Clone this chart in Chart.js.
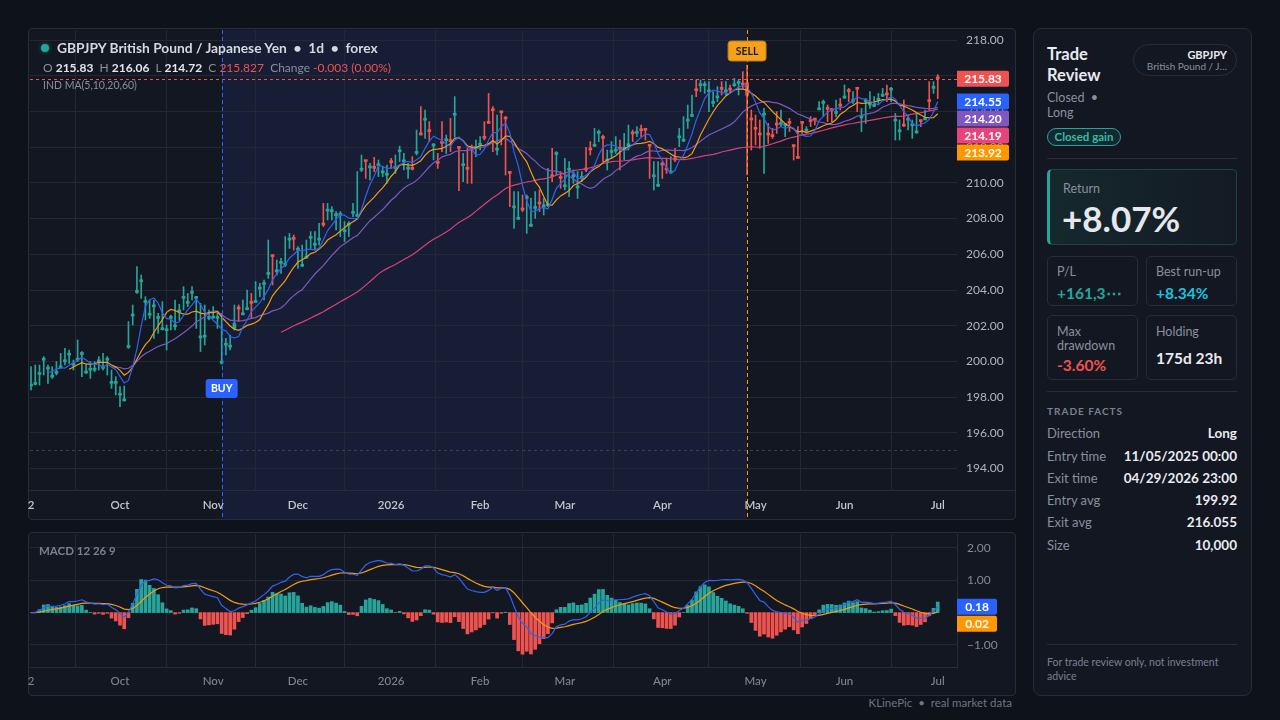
<!DOCTYPE html>
<html>
<head>
<meta charset="utf-8">
<title>GBPJPY trade review</title>
<script src="https://cdn.jsdelivr.net/npm/chart.js@4.4.1/dist/chart.umd.min.js"></script>
<style>
  body { margin: 0; width: 1280px; height: 720px; background: #0e121a; overflow: hidden; position: relative;
         font-family: Lato, "Noto Sans", sans-serif; color: #d1d4dc; }
  .box { position: absolute; background: #131722; border: 1px solid #272c38; border-radius: 4px; box-sizing: border-box; }
  canvas { position: absolute; }
  .abs { position: absolute; white-space: nowrap; }
  .g { color: #8a8f9d; }
  .v { color: #e4e6eb; font-weight: 700; }
  .r { color: #ef5350; }
  .card { position: absolute; border: 1px solid #272c38; border-radius: 5px; box-sizing: border-box; }
  .lbl { position: absolute; left: 9px; font-size: 12.5px; line-height: 14px; color: #8a8f9d; }
  .val { position: absolute; left: 9px; font-size: 15.5px; line-height: 18px; font-weight: 700; }
  .hr { position: absolute; left: 13px; width: 190px; height: 1px; background: #272c38; }
  .row { position: absolute; left: 13px; width: 190px; height: 16px; line-height: 16px; }
  .row span { position: absolute; }
  .row .k { left: 0; font-size: 13px; color: #8a8f9d; }
  .row .w { right: 0; font-size: 13.5px; font-weight: 700; color: #e9ebf0; }
</style>
</head>
<body>
<div class="box" style="left:28px;top:28px;width:988px;height:492px"></div>
<div class="box" style="left:28px;top:532px;width:988px;height:164px"></div>
<canvas id="main" width="988" height="491" style="left:28px;top:28px"></canvas>
<canvas id="macd" width="988" height="162" style="left:28px;top:533px"></canvas>

<div class="abs" style="left:41px;top:44px;width:8px;height:8px;border-radius:4px;background:#26a69a;box-shadow:0 0 4px rgba(38,166,154,.6)"></div>
<div class="abs" style="left:57px;top:40px;font-size:13.8px;line-height:16px;font-weight:700;color:#d5d8df">GBPJPY British Pound / Japanese Yen &nbsp;•&nbsp; 1d &nbsp;•&nbsp; forex</div>
<div class="abs" style="left:43px;top:61px;font-size:12px;line-height:14px">
  <span class="g">O</span> <span class="v">215.83</span>&nbsp;
  <span class="g">H</span> <span class="v">216.06</span>&nbsp;
  <span class="g">L</span> <span class="v">214.72</span>&nbsp;
  <span class="g">C</span> <span class="r">215.827</span>&nbsp;
  <span class="g">Change</span> <span class="r">-0.003 (0.00%)</span>
</div>
<div class="abs g" style="left:43px;top:78px;font-size:10.5px;line-height:14px">IND MA(5,10,20,60)</div>
<div class="abs" style="left:39px;top:544px;font-size:11.5px;line-height:14px;font-weight:700;color:#7b8091">MACD 12 26 9</div>
<div class="abs" style="right:268px;top:696px;font-size:11.5px;line-height:14px;color:#6f7486">KLinePic &nbsp;•&nbsp; real market data</div>

<div class="box" style="left:1033px;top:28px;width:219px;height:668px;border-radius:8px">
  <div class="abs" style="left:13px;top:15px;font-size:16.5px;line-height:21px;font-weight:700;color:#e9ebf0">Trade<br>Review</div>
  <div class="abs g" style="left:13px;top:61px;font-size:12.5px;line-height:15px">Closed &nbsp;•<br>Long</div>
  <div class="abs" style="left:13px;top:99px;width:74px;height:18px;box-sizing:border-box;border:1px solid #26a69a;border-radius:9px;background:rgba(38,166,154,.12);color:#2bbfa6;font-size:11.5px;font-weight:700;line-height:16px;text-align:center">Closed gain</div>
  <div class="abs" style="left:99px;top:15px;width:104px;height:32px;box-sizing:border-box;border:1px solid #272c38;border-radius:16px">
    <div class="abs" style="right:9px;top:3px;font-size:11px;line-height:13px;font-weight:700;color:#e9ebf0">GBPJPY</div>
    <div class="abs g" style="right:9px;top:15px;font-size:10px;line-height:13px">British Pound / J…</div>
  </div>
  <div class="hr" style="top:129px"></div>
  <div class="card" style="left:13px;top:140px;width:190px;height:76px;border-color:#1d4643;border-left:3px solid #26a69a;background:linear-gradient(90deg,#15292d,#131a24)">
    <div class="abs g" style="left:13px;top:12px;font-size:12.5px;line-height:14px">Return</div>
    <div class="abs" style="left:12px;top:29px;font-size:35px;line-height:38px;font-weight:700;color:#e6e8ee">+8.07%</div>
  </div>
  <div class="card" style="left:13px;top:227px;width:91px;height:50px">
    <div class="lbl" style="top:8px">P/L</div>
    <div class="val" style="top:27px;color:#26a69a">+161,3⋯</div>
  </div>
  <div class="card" style="left:112px;top:227px;width:91px;height:50px">
    <div class="lbl" style="top:8px">Best run-up</div>
    <div class="val" style="top:27px;color:#1ec2dd">+8.34%</div>
  </div>
  <div class="card" style="left:13px;top:286px;width:91px;height:65px">
    <div class="lbl" style="top:9px">Max<br>drawdown</div>
    <div class="val" style="top:40px;color:#ef5350">-3.60%</div>
  </div>
  <div class="card" style="left:112px;top:286px;width:91px;height:65px">
    <div class="lbl" style="top:9px">Holding</div>
    <div class="val" style="top:33px;color:#e9ebf0">175d 23h</div>
  </div>
  <div class="hr" style="top:362px"></div>
  <div class="abs" style="left:13px;top:375px;font-size:10px;line-height:14px;font-weight:700;letter-spacing:1px;color:#7b8091">TRADE FACTS</div>
  <div class="row" style="top:396px"><span class="k">Direction</span><span class="w">Long</span></div>
  <div class="row" style="top:419px"><span class="k">Entry time</span><span class="w">11/05/2025 00:00</span></div>
  <div class="row" style="top:441px"><span class="k">Exit time</span><span class="w">04/29/2026 23:00</span></div>
  <div class="row" style="top:463px"><span class="k">Entry avg</span><span class="w">199.92</span></div>
  <div class="row" style="top:485px"><span class="k">Exit avg</span><span class="w">216.055</span></div>
  <div class="row" style="top:508px"><span class="k">Size</span><span class="w">10,000</span></div>
  <div class="hr" style="top:615px"></div>
  <div class="abs" style="left:13px;top:626px;width:190px;white-space:normal;font-size:10.5px;line-height:14px;color:#7b8091">For trade review only, not investment advice</div>
</div>

<script>
// daily bars, Sep 2025 - Jul 2026 (index = bar number)
const opens = [
  198.62, 198.71, 199.27, 200.07, 199.57, 199.12, 199.33, 199.64, 199.98, 200.35,
  199.79, 200.07, 200.39, 199.35, 199.51, 199.51, 199.98, 199.61, 200.07, 198.77,
  198.77, 198.11, 197.79, 200.78, 202.54, 203.86, 204.46, 203.30, 202.59, 203.06,
  202.41, 201.78, 201.72, 202.41, 201.94, 202.78, 203.53, 203.25, 203.81, 203.53,
  201.32, 201.36, 202.41, 202.43, 202.41, 199.90, 200.91, 200.80, 201.85, 203.05,
  202.61, 202.90, 203.35, 203.30, 204.05, 204.31, 204.87, 205.95, 205.02, 205.49,
  205.39, 206.79, 206.94, 206.23, 205.33, 205.79, 206.89, 206.51, 206.79, 207.74,
  208.42, 208.38, 208.16, 208.19, 207.26, 207.63, 208.29, 208.12, 210.71, 211.22,
  210.84, 210.91, 210.96, 210.56, 210.43, 211.23, 210.81, 211.74, 211.18, 210.77,
  210.86, 211.65, 212.80, 213.51, 212.97, 212.06, 211.19, 212.31, 212.36, 212.41,
  213.79, 211.99, 210.96, 210.86, 212.03, 211.93, 212.11, 212.59, 213.45, 214.14,
  211.83, 213.99, 213.68, 210.62, 208.60, 207.96, 208.58, 209.13, 207.57, 208.57,
  208.92, 208.66, 208.72, 210.45, 211.59, 210.35, 209.78, 210.71, 210.34, 209.72,
  210.25, 210.82, 211.94, 212.05, 212.77, 212.59, 211.22, 211.70, 211.78, 211.98,
  211.89, 212.08, 212.84, 212.77, 213.02, 213.00, 212.10, 210.34, 209.81, 211.10,
  210.82, 210.55, 211.38, 212.52, 212.34, 213.46, 213.72, 215.26, 215.44, 215.44,
  215.10, 214.45, 214.76, 215.34, 215.10, 215.30, 215.44, 215.57, 215.58, 215.60,
  213.62, 213.10, 212.78, 213.79, 212.78, 212.69, 213.34, 213.27, 213.20, 213.43,
  212.10, 211.47, 213.40, 212.90, 213.53, 213.59, 214.09, 214.45, 214.22, 214.12,
  213.89, 214.40, 214.75, 215.20, 214.54, 215.29, 213.64, 214.54, 214.35, 214.28,
  214.63, 214.85, 215.02, 215.19, 213.46, 212.86, 213.28, 213.51, 213.20, 212.80,
  213.50, 213.53, 214.65, 215.29, 215.83
];
const highs = [
  199.71, 199.80, 199.80, 200.27, 199.80, 199.71, 199.99, 200.45, 200.73, 200.64,
  200.08, 201.20, 200.55, 199.80, 199.99, 199.99, 200.27, 200.45, 200.27, 199.52,
  199.15, 198.59, 198.62, 202.23, 203.16, 205.31, 204.84, 203.63, 203.44, 203.44,
  202.69, 203.35, 202.04, 202.60, 203.44, 203.20, 204.19, 203.81, 204.19, 203.63,
  203.25, 203.16, 202.88, 203.07, 202.69, 202.69, 201.29, 201.48, 203.16, 203.16,
  203.44, 204.00, 203.81, 204.47, 204.37, 204.56, 206.80, 205.96, 205.68, 205.77,
  206.99, 207.17, 207.08, 206.43, 206.52, 206.80, 207.27, 207.27, 207.73, 208.85,
  208.85, 208.67, 208.39, 208.39, 207.83, 207.83, 208.85, 210.63, 211.56, 211.24,
  211.09, 211.43, 211.28, 210.91, 211.00, 211.37, 211.56, 212.06, 211.65, 211.09,
  211.47, 212.96, 214.27, 214.08, 213.43, 212.21, 211.65, 213.43, 212.68, 213.61,
  214.83, 211.99, 211.65, 211.93, 212.12, 212.40, 212.59, 213.43, 215.01, 214.27,
  213.80, 213.99, 213.71, 210.63, 209.51, 209.51, 209.32, 209.32, 209.13, 209.51,
  209.60, 209.13, 210.81, 211.93, 211.75, 210.63, 211.37, 211.19, 210.72, 210.63,
  210.63, 211.99, 212.31, 213.05, 212.96, 212.68, 211.84, 212.31, 212.59, 212.40,
  212.77, 213.24, 212.96, 213.15, 213.24, 213.05, 212.12, 211.19, 211.19, 211.19,
  211.37, 211.47, 211.93, 213.05, 213.71, 214.36, 214.92, 215.76, 215.76, 215.67,
  215.67, 215.11, 215.39, 215.67, 215.67, 215.48, 215.85, 215.76, 216.23, 216.60,
  214.08, 213.80, 213.52, 214.17, 213.33, 213.05, 213.99, 214.08, 213.33, 213.61,
  212.12, 213.15, 213.43, 213.15, 213.71, 213.61, 214.55, 214.64, 214.36, 214.17,
  214.64, 214.73, 215.48, 215.29, 215.11, 215.29, 214.17, 214.73, 215.11, 214.83,
  215.01, 215.29, 215.48, 215.35, 213.89, 213.52, 214.64, 213.80, 213.52, 213.89,
  213.52, 214.08, 215.67, 215.67, 216.06
];
const lows = [
  198.40, 198.68, 198.68, 199.24, 198.77, 199.05, 199.24, 199.61, 199.80, 199.89,
  199.52, 199.99, 199.15, 199.33, 199.05, 199.43, 199.52, 199.52, 199.24, 198.49,
  198.12, 197.47, 197.78, 200.73, 202.04, 203.81, 203.53, 202.32, 202.41, 201.29,
  201.57, 201.76, 200.64, 201.76, 201.76, 202.30, 202.88, 203.07, 203.44, 201.85,
  200.55, 200.92, 202.32, 202.41, 201.85, 199.85, 200.36, 200.64, 201.76, 202.23,
  202.60, 202.88, 202.41, 203.30, 203.63, 203.44, 204.65, 204.28, 204.84, 204.93,
  205.31, 206.33, 206.24, 205.21, 205.31, 205.77, 206.33, 206.24, 206.52, 207.55,
  207.92, 207.92, 207.36, 206.99, 206.71, 206.99, 208.11, 208.11, 210.63, 210.25,
  210.16, 210.63, 210.35, 210.35, 209.97, 210.81, 210.53, 211.19, 210.72, 210.25,
  210.72, 211.56, 212.68, 212.49, 212.31, 211.28, 210.81, 211.75, 211.65, 211.75,
  212.59, 209.56, 210.07, 209.97, 209.97, 211.47, 211.84, 212.40, 213.33, 211.75,
  211.56, 212.12, 210.44, 208.67, 207.45, 207.95, 208.39, 207.17, 207.55, 208.01,
  208.39, 208.20, 208.67, 210.07, 210.44, 209.69, 209.60, 209.23, 209.97, 209.13,
  210.07, 210.63, 211.56, 212.03, 212.31, 211.19, 210.72, 211.37, 211.65, 210.72,
  211.28, 211.84, 212.31, 212.59, 212.59, 212.40, 210.25, 209.60, 209.79, 210.25,
  210.53, 210.53, 211.19, 212.03, 212.31, 213.05, 213.70, 214.83, 215.11, 215.01,
  213.99, 214.27, 214.55, 214.92, 214.92, 215.01, 215.39, 214.92, 215.29, 210.44,
  211.84, 212.12, 211.93, 210.53, 212.21, 212.49, 212.77, 213.15, 212.59, 212.87,
  211.28, 211.37, 212.77, 212.87, 213.15, 213.24, 214.08, 213.71, 213.43, 213.43,
  213.71, 214.08, 214.73, 214.55, 214.45, 213.99, 212.87, 213.33, 214.17, 214.27,
  214.45, 214.83, 214.55, 214.55, 212.40, 212.40, 213.15, 212.96, 212.49, 212.77,
  213.15, 213.52, 214.08, 215.01, 214.72
];
const closes = [
  198.72, 198.81, 199.37, 200.17, 199.67, 199.22, 199.43, 199.74, 200.08, 200.45,
  199.89, 200.17, 200.49, 199.37, 199.61, 199.61, 200.08, 199.71, 200.17, 198.87,
  198.87, 198.21, 197.84, 200.88, 202.64, 203.96, 204.56, 203.40, 202.69, 203.16,
  202.51, 201.85, 201.82, 202.51, 202.04, 202.88, 203.63, 203.35, 203.91, 203.63,
  201.42, 201.46, 202.51, 202.51, 202.51, 200.02, 201.01, 200.90, 202.13, 202.93,
  202.68, 202.97, 203.25, 203.40, 204.15, 204.41, 204.97, 205.87, 205.12, 205.59,
  205.49, 206.89, 206.84, 206.33, 205.40, 205.87, 206.99, 206.61, 206.89, 207.64,
  208.52, 208.48, 208.26, 208.29, 207.36, 207.73, 208.39, 208.20, 210.81, 211.19,
  210.94, 210.81, 211.06, 210.66, 210.53, 211.13, 210.91, 211.84, 211.28, 210.87,
  210.76, 211.75, 212.68, 213.61, 212.87, 212.16, 211.09, 212.21, 212.46, 212.31,
  213.89, 211.93, 211.06, 210.76, 211.93, 212.03, 212.21, 212.49, 213.33, 214.04,
  211.93, 213.93, 213.58, 210.53, 208.70, 208.01, 208.48, 209.23, 207.64, 208.67,
  208.82, 208.76, 208.82, 210.35, 211.69, 210.25, 209.88, 210.81, 210.44, 209.82,
  210.35, 210.72, 211.84, 212.12, 212.87, 212.49, 211.32, 211.80, 211.88, 211.88,
  211.99, 212.18, 212.74, 212.87, 212.92, 212.94, 212.05, 210.44, 209.88, 211.00,
  210.72, 210.63, 211.28, 212.62, 212.44, 213.56, 213.80, 215.16, 215.54, 215.54,
  215.20, 214.55, 214.86, 215.24, 215.20, 215.20, 215.54, 215.67, 215.48, 214.90,
  213.52, 213.00, 212.68, 213.89, 212.68, 212.59, 213.24, 213.37, 213.30, 213.33,
  212.03, 211.37, 213.33, 212.96, 213.43, 213.52, 214.17, 214.55, 214.12, 214.04,
  213.99, 214.30, 214.83, 215.11, 214.64, 215.24, 213.74, 214.64, 214.45, 214.30,
  214.73, 214.92, 214.92, 215.29, 213.56, 212.96, 213.18, 213.61, 213.30, 212.87,
  213.43, 213.61, 214.55, 215.39, 215.827
];

const monthIdx = [0, 21, 43, 63, 85, 106, 126, 149, 171, 192, 214];
const monthLabels = ['2', 'Oct', 'Nov', 'Dec', '2026', 'Feb', 'Mar', 'Apr', 'May', 'Jun', 'Jul'];
const priceTicks = [194, 196, 198, 200, 202, 204, 206, 208, 210, 212, 214, 216, 218];
const macdTicks = [2, 1, -1];
const buyIdx = 45;
const sellIdx = 169;
const lastPrice = 215.83;
const guidePrice = 195.05;
const priceTags = [215.83, 214.55, 214.20, 214.19, 213.92];
const priceTagColors = ['#f05252', '#2962ff', '#7e57c2', '#e8437b', '#ff9800'];
const macdTags = [0.18, 0.02];
const macdTagColors = ['#2962ff', '#ff9800'];

const UP = '#26a69a', DOWN = '#ef5350', GRID = '#232835';
const FONT = 'Lato, "Noto Sans", sans-serif';

function sma(src, n) {
  return src.map((_, i) => {
    if (i < n - 1) return null;
    let s = 0;
    for (let k = i - n + 1; k <= i; k++) s += src[k];
    return s / n;
  });
}
function ema(src, n) {
  const k = 2 / (n + 1);
  const out = [];
  src.forEach((v, i) => out.push(i === 0 ? v : v * k + out[i - 1] * (1 - k)));
  return out;
}
const pts = arr => arr.map((y, x) => ({ x, y }));

const barColors = closes.map((c, i) => (c >= opens[i] ? UP : DOWN));
const ema12 = ema(closes, 12), ema26 = ema(closes, 26);
const dif = closes.map((_, i) => ema12[i] - ema26[i]);
const dea = ema(dif, 9);
const hist = dif.map((d, i) => 2 * (d - dea[i]));

function drawTags(ctx, scale, x0, w, values, colors) {
  let prev = -Infinity;
  ctx.font = '700 12px ' + FONT;
  ctx.textAlign = 'center';
  ctx.textBaseline = 'middle';
  values.forEach((v, k) => {
    let y = scale.getPixelForValue(v);
    if (y < prev + 17) y = prev + 17;
    prev = y;
    ctx.fillStyle = colors[k];
    ctx.beginPath();
    ctx.roundRect(x0, y - 8, w, 16, [0, 2, 2, 0]);
    ctx.fill();
    ctx.fillStyle = '#ffffff';
    ctx.fillText(v.toFixed(2), x0 + w / 2, y + 0.5);
  });
}

function xAxis(min, max, h, pad, color, weight) {
  return {
    type: 'linear', min, max, offset: false,
    afterBuildTicks: ax => { ax.ticks = monthIdx.map(v => ({ value: v })); },
    afterFit: ax => { ax.height = h; ax.paddingLeft = 0; ax.paddingRight = 0; },
    grid: { color: GRID, drawTicks: false },
    border: { display: false },
    ticks: {
      autoSkip: false, maxRotation: 0, padding: pad, color,
      font: { family: FONT, size: 11.5, weight },
      callback: v => monthLabels[monthIdx.indexOf(v)]
    }
  };
}

function yFit(ax) { ax.width = 59; ax.paddingTop = 0; ax.paddingBottom = 0; }

const tradePlugin = {
  id: 'trade',
  beforeDraw(chart) {
    const { ctx, chartArea: a, scales: { x } } = chart;
    ctx.save();
    ctx.fillStyle = '#161d35';
    const x1 = x.getPixelForValue(buyIdx), x2 = x.getPixelForValue(sellIdx);
    ctx.fillRect(x1, a.top, x2 - x1, chart.height - a.top);
    ctx.restore();
  },
  afterDatasetsDraw(chart) {
    const { ctx, chartArea: a, scales: { x, y } } = chart;
    ctx.save();
    ctx.lineWidth = 1;
    // axis separator
    ctx.strokeStyle = '#272c38';
    ctx.beginPath(); ctx.moveTo(0, a.bottom + 0.5); ctx.lineTo(chart.width, a.bottom + 0.5); ctx.stroke();
    ctx.setLineDash([3, 3]);
    ctx.strokeStyle = '#3a3f4c';
    let py = Math.round(y.getPixelForValue(guidePrice)) + 0.5;
    ctx.beginPath(); ctx.moveTo(a.left, py); ctx.lineTo(a.right, py); ctx.stroke();
    ctx.strokeStyle = '#ef5350';
    py = Math.round(y.getPixelForValue(lastPrice)) + 0.5;
    ctx.beginPath(); ctx.moveTo(a.left, py); ctx.lineTo(a.right, py); ctx.stroke();
    ctx.setLineDash([4, 3]);
    [[buyIdx, '#2962ff'], [sellIdx, '#ff9800']].forEach(([i, c]) => {
      const px = Math.round(x.getPixelForValue(i)) + 0.5;
      ctx.strokeStyle = c;
      ctx.beginPath(); ctx.moveTo(px, a.top); ctx.lineTo(px, chart.height); ctx.stroke();
    });
    ctx.setLineDash([]);
    // BUY / SELL markers
    ctx.font = '700 10.5px ' + FONT;
    ctx.textAlign = 'center';
    ctx.textBaseline = 'middle';
    const bx = x.getPixelForValue(buyIdx), by = y.getPixelForValue(lows[buyIdx]) + 15;
    ctx.fillStyle = '#2962ff';
    ctx.beginPath(); ctx.roundRect(bx - 16, by, 32, 19, 3); ctx.fill();
    ctx.fillStyle = '#ffffff';
    ctx.fillText('BUY', bx, by + 10);
    const sx = x.getPixelForValue(sellIdx), sy = y.getPixelForValue(highs[sellIdx]) - 4;
    ctx.fillStyle = '#f5a11c';
    ctx.strokeStyle = '#b87a18';
    ctx.beginPath(); ctx.roundRect(sx - 19, sy - 20, 38, 20, 3); ctx.fill(); ctx.stroke();
    ctx.fillStyle = '#1c1c1c';
    ctx.fillText('SELL', sx, sy - 9.5);
    ctx.restore();
  },
  afterDraw(chart) {
    const { ctx, chartArea: a, scales: { y } } = chart;
    ctx.save();
    drawTags(ctx, y, a.right, 52, priceTags, priceTagColors);
    ctx.restore();
  }
};

new Chart(document.getElementById('main').getContext('2d'), {
  type: 'bar',
  data: {
    datasets: [
      { type: 'line', label: 'MA5', data: pts(sma(closes, 5)), borderColor: '#2f63f0', borderWidth: 1.2, pointRadius: 0, order: 0 },
      { type: 'line', label: 'MA10', data: pts(sma(closes, 10)), borderColor: '#f29b16', borderWidth: 1.2, pointRadius: 0, order: 0 },
      { type: 'line', label: 'MA20', data: pts(sma(closes, 20)), borderColor: '#7e57c2', borderWidth: 1.2, pointRadius: 0, order: 0 },
      { type: 'line', label: 'MA60', data: pts(sma(closes, 60)), borderColor: '#d7407a', borderWidth: 1.2, pointRadius: 0, order: 0 },
      { label: 'wick', data: lows.map((l, i) => ({ x: i, y: [l, highs[i]] })), backgroundColor: barColors,
        barThickness: 1, grouped: false, order: 2 },
      { label: 'body', data: opens.map((o, i) => ({ x: i, y: [o, closes[i]] })), backgroundColor: barColors,
        barThickness: 3, minBarLength: 2, grouped: false, order: 1 }
    ]
  },
  options: {
    responsive: false, animation: false, events: [],
    layout: { padding: { left: 2, top: 2, right: 0, bottom: 0 } },
    plugins: { legend: { display: false }, tooltip: { enabled: false } },
    scales: {
      x: xAxis(-0.24, 218.55, 29, 8, '#c3c6ce', 600),
      y: {
        position: 'right', min: 192.80, max: 218.56,
        afterBuildTicks: ax => { ax.ticks = priceTicks.map(v => ({ value: v })); },
        afterFit: yFit,
        grid: { color: GRID, drawTicks: false },
        border: { display: false },
        ticks: { padding: 9, color: '#b2b5be', font: { family: FONT, size: 12 }, callback: v => v.toFixed(2) }
      }
    }
  },
  plugins: [tradePlugin]
});

const macdPlugin = {
  id: 'macdTags',
  afterDraw(chart) {
    const { ctx, chartArea: a, scales: { y } } = chart;
    ctx.save();
    drawTags(ctx, y, a.right, 40, macdTags, macdTagColors);
    ctx.restore();
  }
};

new Chart(document.getElementById('macd').getContext('2d'), {
  type: 'bar',
  data: {
    datasets: [
      { type: 'line', label: 'DIF', data: pts(dif), borderColor: '#2f63f0', borderWidth: 1.2, pointRadius: 0, order: 0 },
      { type: 'line', label: 'DEA', data: pts(dea), borderColor: '#f29b16', borderWidth: 1.2, pointRadius: 0, order: 0 },
      { label: 'MACD', data: pts(hist), backgroundColor: hist.map(h => (h >= 0 ? UP : DOWN)),
        barThickness: 3, order: 1 }
    ]
  },
  options: {
    responsive: false, animation: false, events: [],
    layout: { padding: { left: 2, top: 1, right: 0, bottom: 0 } },
    plugins: { legend: { display: false }, tooltip: { enabled: false } },
    scales: {
      x: Object.assign(xAxis(-0.24, 218.55, 28, 7, '#7f8493', 500), { border: { display: true, color: '#272c38' } }),
      y: {
        position: 'right', min: -1.683, max: 2.431,
        afterBuildTicks: ax => { ax.ticks = macdTicks.map(v => ({ value: v })); },
        afterFit: yFit,
        grid: { color: GRID, drawTicks: false },
        border: { display: true, color: '#272c38' },
        ticks: { padding: 10, color: '#848997', font: { family: FONT, size: 12 },
                 callback: v => (v < 0 ? '\u2212' + Math.abs(v).toFixed(2) : v.toFixed(2)) }
      }
    }
  },
  plugins: [macdPlugin]
});
</script>
</body>
</html>
